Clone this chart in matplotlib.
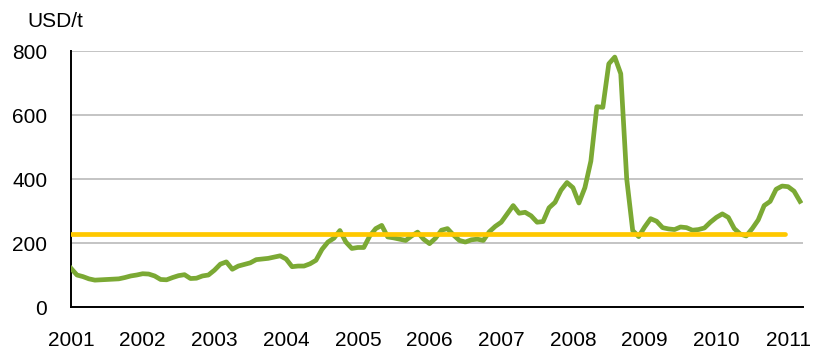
import matplotlib.pyplot as plt
import numpy as np

# monthly price, Jan 2001 - Mar 2011 (USD/t)
price = [121, 100, 95, 88, 84, 85, 86, 87, 88, 92, 97, 100,
         104, 103, 97, 86, 85, 92, 98, 101, 89, 90, 97, 100,
         115, 134, 141, 118, 128, 133, 138, 148, 150, 152, 156, 160,
         150, 126, 128, 128, 135, 146, 180, 203, 215, 239, 203, 183,
         186, 186, 222, 245, 255, 219, 216, 212, 208, 222, 234, 212,
         198, 215, 240, 245, 225, 208, 203, 210, 212, 208, 235, 252,
         265, 291, 317, 293, 296, 285, 265, 267, 310, 327, 365, 389,
         373, 325, 373, 456, 626, 624, 760, 781, 729, 400, 239, 220,
         250, 276, 268, 248, 244, 242, 250, 248, 240, 242, 247, 265,
         280, 291, 280, 245, 228, 222, 245, 272, 317, 330, 368, 378,
         376, 362, 330]
months = np.arange(len(price))

# long-run average
avg_months = [0, 119.5]
avg_value = [229, 229]

years = list(range(2001, 2012))
year_ticks = [12 * i for i in range(len(years))]

plt.rcParams['font.family'] = ['Liberation Sans', 'DejaVu Sans']

fig = plt.figure(figsize=(8.14, 3.53), dpi=100)
ax = fig.add_axes([0.0872, 0.1303, 0.8993, 0.7252])

ax.plot(months, price, color='#7BA934', lw=3.4, solid_joinstyle='round', zorder=3)
ax.plot(avg_months, avg_value, color='#FFC800', lw=3.4, solid_capstyle='round', zorder=4)

ax.set_ylim(0, 800)
ax.set_xlim(0, 122.5)
ax.set_yticks([0, 200, 400, 600, 800])
ax.set_xticks(year_ticks)
ax.set_xticklabels([str(y) for y in years])
ax.tick_params(axis='both', length=0, labelsize=15, colors='black')
ax.tick_params(axis='y', pad=17)
ax.tick_params(axis='x', pad=17)

ax.grid(axis='y', color='#BFBFBF', lw=1.3)
ax.set_axisbelow(True)
for side in ['top', 'right']:
    ax.spines[side].set_visible(False)
for side in ['left', 'bottom']:
    ax.spines[side].set_linewidth(1.4)
    ax.spines[side].set_color('black')

fig.text(0.0675, 0.94, 'USD/t', fontsize=15, ha='center', va='center')

fig.savefig('out.png', dpi=100)
